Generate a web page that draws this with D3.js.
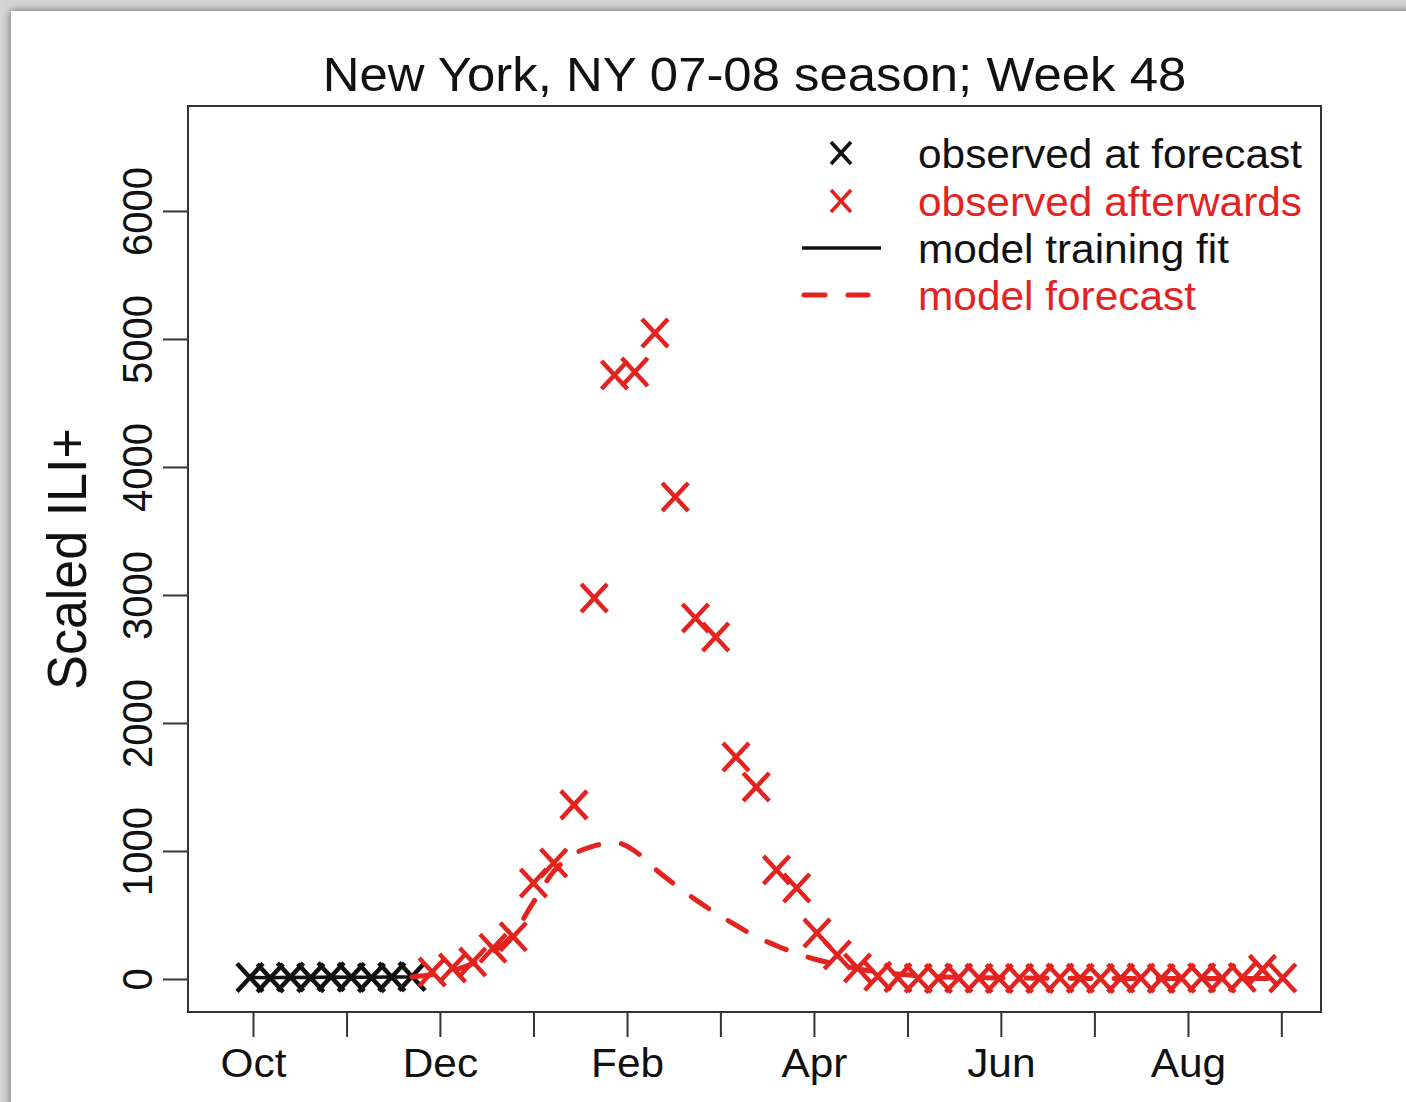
<!DOCTYPE html>
<html>
<head>
<meta charset="utf-8">
<script src="https://cdn.jsdelivr.net/npm/d3@7"></script>
<style>
  html, body { margin: 0; padding: 0; background: #fff; }
  svg { display: block; }
</style>
</head>
<body>
<svg id="chart" width="1406" height="1102"></svg>
<script>
// Season weeks (MMWR week numbers), one point per week
const seasonWeeks = [40, 41, 42, 43, 44, 45, 46, 47, 48, 49, 50, 51, 52,
  1, 2, 3, 4, 5, 6, 7, 8, 9, 10, 11, 12, 13, 14, 15, 16, 17, 18, 19, 20,
  21, 22, 23, 24, 25, 26, 27, 28, 29, 30, 31, 32, 33, 34, 35, 36, 37, 38, 39];

// Scaled ILI+ known when the forecast was made (weeks 40-48)
const observedAtForecast = [12, 8, 15, 10, 18, 14, 9, 16, 20];

// Scaled ILI+ observed after the forecast (weeks 49 onwards)
const observedAfterwards = [55, 86, 133, 240, 330, 750, 906, 1360, 2977, 4719,
  4742, 5047, 3766, 2820, 2672, 1734, 1500, 852, 711, 359, 188, 86, 22,
  10, 6, 4, 8, 5, 3, 6, 4, 7, 5, 3, 6, 8, 4, 5, 9, 6, 12, 75, 8];

// Model fit over the training weeks (weeks 40-48)
const trainingFit = [12, 10, 13, 12, 15, 14, 13, 16, 15];

// Model forecast, starting at the last training week (week 48)
const forecast = [15, 35, 65, 120, 210, 350, 600, 840, 975, 1040, 1068, 1000,
  860, 735, 620, 515, 420, 330, 260, 200, 150, 115, 80, 55, 38, 26, 18, 13,
  10, 8, 7, 6, 5, 5, 4, 4, 4, 3, 3, 3, 3, 3, 3, 3];

// Month tick positions on the week axis and their labels
const monthTickPos = [0.15, 4.77, 9.38, 14.0, 18.62, 23.23, 27.85, 32.47, 37.08, 41.7, 46.32, 50.93];
const monthTickLabels = ["Oct", "", "Dec", "", "Feb", "", "Apr", "", "Jun", "", "Aug", ""];

const yTicks = [0, 1000, 2000, 3000, 4000, 5000, 6000];

const titleText = "New York, NY 07-08 season; Week 48";
const yTitle = "Scaled ILI+";
const legendItems = [
  { label: "observed at forecast", color: "#111", kind: "cross" },
  { label: "observed afterwards", color: "#e2231f", kind: "cross" },
  { label: "model training fit", color: "#111", kind: "solid" },
  { label: "model forecast", color: "#e2231f", kind: "dash" }
];

const RED = "#e2231f";
const INK = "#111";
const FONT = "'Liberation Sans', Arial, Helvetica, sans-serif";
const STRETCH = "scale(1.06,1)";

const svg = d3.select("#chart");

// Page with a soft shadow along its top and left edges
const defs = svg.append("defs");
const shadow = defs.append("filter").attr("id", "pageShadow")
  .attr("x", "-5%").attr("y", "-5%").attr("width", "110%").attr("height", "110%");
shadow.append("feDropShadow").attr("dx", 0).attr("dy", 0)
  .attr("stdDeviation", 4).attr("flood-color", "#000").attr("flood-opacity", 0.55);
svg.append("rect").attr("width", 1406).attr("height", 1102).attr("fill", "#d4d4d4");
svg.append("rect").attr("x", 11).attr("y", 11).attr("width", 1420).attr("height", 1120)
  .attr("fill", "#fff").attr("filter", "url(#pageShadow)");

const box = { left: 188, right: 1321, top: 106, bottom: 1012 };

const x = d3.scaleLinear().domain([-3.06, 52.89]).range([box.left, box.right]);
const y = d3.scaleLinear().domain([-258, 6820]).range([box.bottom, box.top]);

// Title
svg.append("text")
  .attr("transform", `translate(${(box.left + box.right) / 2},91) ${STRETCH}`)
  .attr("text-anchor", "middle")
  .attr("font-family", FONT).attr("font-size", 48).attr("fill", INK)
  .text(titleText);

// X axis
const xAxisG = svg.append("g").attr("transform", `translate(0,${box.bottom})`)
  .call(d3.axisBottom(x).tickValues(monthTickPos)
    .tickFormat((d, i) => monthTickLabels[i]).tickSize(25).tickSizeOuter(0));
xAxisG.select(".domain").remove();
xAxisG.selectAll(".tick line").attr("stroke", "#333").attr("stroke-width", 2);
xAxisG.selectAll(".tick text")
  .attr("y", null).attr("dy", null)
  .attr("transform", `translate(0,65) ${STRETCH}`)
  .attr("font-family", FONT).attr("font-size", 40).attr("fill", INK);
svg.append("line")
  .attr("x1", x(monthTickPos[0])).attr("x2", x(monthTickPos[monthTickPos.length - 1]))
  .attr("y1", box.bottom).attr("y2", box.bottom)
  .attr("stroke", "#333").attr("stroke-width", 2);

// Y axis
const yAxisG = svg.append("g").attr("transform", `translate(${box.left},0)`)
  .call(d3.axisLeft(y).tickValues(yTicks).tickFormat(d3.format("d"))
    .tickSize(25).tickSizeOuter(0));
yAxisG.select(".domain").remove();
yAxisG.selectAll(".tick line").attr("stroke", "#333").attr("stroke-width", 2);
yAxisG.selectAll(".tick text")
  .attr("x", null).attr("dy", null)
  .attr("text-anchor", "middle")
  .attr("transform", `translate(-36,0) ${STRETCH} rotate(-90)`)
  .attr("font-family", FONT).attr("font-size", 40).attr("fill", INK);
svg.append("line")
  .attr("x1", box.left).attr("x2", box.left)
  .attr("y1", y(yTicks[0])).attr("y2", y(yTicks[yTicks.length - 1]))
  .attr("stroke", "#333").attr("stroke-width", 2);

// Y axis title
svg.append("text")
  .attr("transform", `translate(86,${(box.top + box.bottom) / 2}) ${STRETCH} rotate(-90)`)
  .attr("text-anchor", "middle")
  .attr("font-family", FONT).attr("font-size", 52).attr("fill", INK)
  .text(yTitle);

// Plot frame
svg.append("rect")
  .attr("x", box.left).attr("y", box.top)
  .attr("width", box.right - box.left).attr("height", box.bottom - box.top)
  .attr("fill", "none").attr("stroke", "#333").attr("stroke-width", 2);

const plot = svg.append("g");

// Cross marker
const crossPath = (hw, hh) => `M${-hw},${-hh}L${hw},${hh}M${-hw},${hh}L${hw},${-hh}`;

const nBefore = observedAtForecast.length;

plot.selectAll("path.obs-before").data(observedAtForecast).join("path")
  .attr("class", "obs-before")
  .attr("transform", (d, i) => `translate(${x(i)},${y(d)})`)
  .attr("d", crossPath(13, 14))
  .attr("fill", "none").attr("stroke", INK).attr("stroke-width", 4.5);

plot.selectAll("path.obs-after").data(observedAfterwards).join("path")
  .attr("class", "obs-after")
  .attr("transform", (d, i) => `translate(${x(nBefore + i)},${y(d)})`)
  .attr("d", crossPath(13, 14))
  .attr("fill", "none").attr("stroke", RED).attr("stroke-width", 4.5);

// Training fit (solid) and forecast (dashed)
const fitLine = d3.line().x(d => x(d[0])).y(d => y(d[1])).curve(d3.curveLinear);

plot.append("path")
  .datum(trainingFit.map((v, i) => [i, v]))
  .attr("d", fitLine)
  .attr("fill", "none").attr("stroke", INK).attr("stroke-width", 3.5);

plot.append("path")
  .datum(forecast.map((v, i) => [nBefore - 1 + i, v]))
  .attr("d", fitLine.curve(d3.curveMonotoneX))
  .attr("fill", "none").attr("stroke", RED).attr("stroke-width", 5)
  .attr("stroke-linecap", "round")
  .attr("stroke-dasharray", "21 23");

// Legend
const legend = svg.append("g");
const rowY = [153, 201, 248, 295];
legendItems.forEach((item, i) => {
  const cy = rowY[i];
  if (item.kind === "cross") {
    legend.append("path")
      .attr("transform", `translate(841,${cy})`)
      .attr("d", crossPath(10, 11))
      .attr("fill", "none").attr("stroke", item.color).attr("stroke-width", 3.6);
  } else if (item.kind === "solid") {
    legend.append("line")
      .attr("x1", 802).attr("x2", 881).attr("y1", cy).attr("y2", cy)
      .attr("stroke", item.color).attr("stroke-width", 3.5);
  } else {
    legend.append("line")
      .attr("x1", 804).attr("x2", 868).attr("y1", cy).attr("y2", cy)
      .attr("stroke", item.color).attr("stroke-width", 5)
      .attr("stroke-linecap", "round")
      .attr("stroke-dasharray", "21 23");
  }
  legend.append("text")
    .attr("transform", `translate(918,${cy + 15}) ${STRETCH}`)
    .attr("font-family", FONT).attr("font-size", 40).attr("fill", item.color)
    .text(item.label);
});
</script>
</body>
</html>
